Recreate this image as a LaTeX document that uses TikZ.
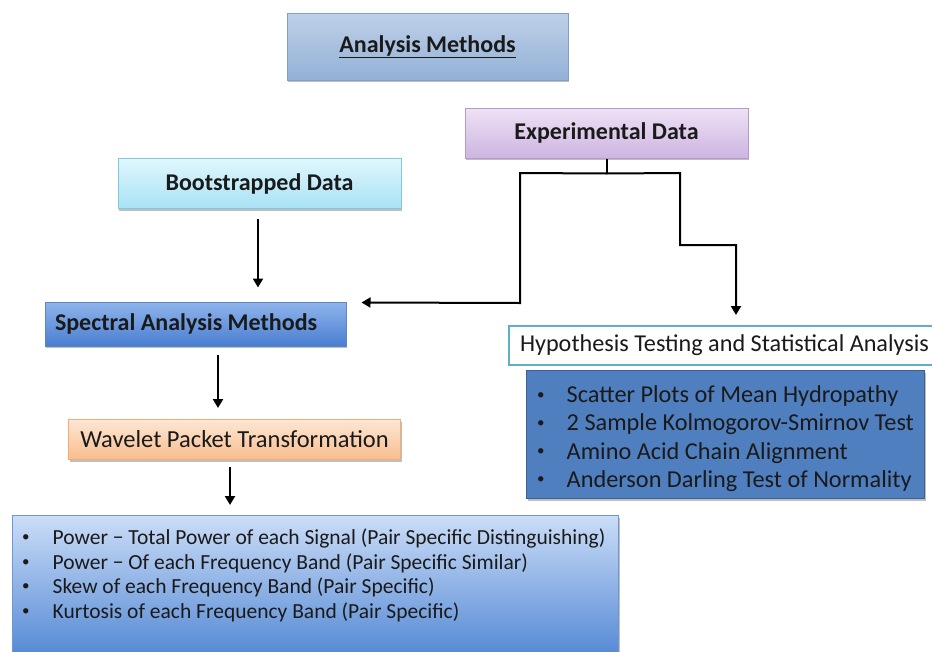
\documentclass[tikz,border=0pt]{standalone}
\usepackage{fontspec}
\setmainfont{Carlito}
\usetikzlibrary{shadows,arrows.meta,calc}
\newcommand\natsp{\spaceskip=0pt\xspaceskip=0pt\relax}
\newcommand\smbul[1]{\makebox[0pt][l]{\raisebox{#1}{\fontsize{15}{15}\selectfont•}}}
\definecolor{txt}{HTML}{1A1A1A}
\definecolor{amD}{HTML}{7F9FC9}\definecolor{amT}{HTML}{BED0E8}\definecolor{amB}{HTML}{93B1D6}
\definecolor{edD}{HTML}{B49BCB}\definecolor{edT}{HTML}{EEE2F6}\definecolor{edB}{HTML}{CDB5E0}
\definecolor{bdD}{HTML}{80C8DC}\definecolor{bdT}{HTML}{E0F7FD}\definecolor{bdB}{HTML}{A8E2F5}
\definecolor{saD}{HTML}{5A86C8}\definecolor{saT}{HTML}{8FB4EB}\definecolor{saB}{HTML}{4A7ED2}
\definecolor{wpD}{HTML}{F2AC78}\definecolor{wpT}{HTML}{FDE7D4}\definecolor{wpB}{HTML}{F8BD8E}
\definecolor{ftD}{HTML}{6D98D6}\definecolor{ftT}{HTML}{CBDDF7}\definecolor{ftB}{HTML}{4C83D2}
\definecolor{hyD}{HTML}{5FAFC8}
\definecolor{tsD}{HTML}{3C6096}\definecolor{tsF}{HTML}{4F7FBF}
\begin{document}
\begin{tikzpicture}[x=1pt,y=-1pt,
  box/.style={rectangle, inner sep=0pt, line width=1pt, text=txt,
    drop shadow={shadow xshift=1pt,shadow yshift=-2pt,opacity=0.25,fill=black}},
  ttl/.style={font=\fontsize{24}{27}\selectfont\bfseries},
  conn/.style={line width=2pt, draw=black},
  arr/.style={conn, -{Triangle[length=9pt,width=10pt]}},
]
\useasboundingbox (0,0) rectangle (932,651);

% Analysis Methods
\node[box, ttl, draw=amD, top color=amT, bottom color=amB,
  minimum width=281, minimum height=67] (am) at (427.5,46.5) {\underline{Analysis Methods}};

% Experimental Data
\node[box, ttl, draw=edD, top color=edT, bottom color=edB,
  minimum width=283, minimum height=50] (ed) at (606.5,133) {Experimental Data};

% Bootstrapped Data
\node[box, ttl, draw=bdD, top color=bdT, bottom color=bdB,
  minimum width=283, minimum height=50] (bd) at (259.5,183.5) {Bootstrapped Data};

% Spectral Analysis Methods
\node[box, ttl, draw=saD, top color=saT, bottom color=saB, inner xsep=10pt,
  minimum width=301, minimum height=44, text width=281, align=left] (sam) at (195.5,324) {\natsp Spectral Analysis Methods};

% Wavelet Packet Transformation
\node[box, font=\fontsize{24.5}{27}\selectfont, draw=wpD, top color=wpT, bottom color=wpB,
  minimum width=332, minimum height=40] (wpt) at (234.5,439.5) {Wavelet Packet Transformation};

% Bottom features box
\node[box, draw=ftD, top color=ftT, bottom color=ftB,
  minimum width=606, minimum height=150, anchor=north west] (feat) at (12,515) {};
\node[anchor=north west, inner sep=0pt, align=left, text=txt, font=\fontsize{21.5}{24.5}\selectfont] (feattxt) at (22,529)
  {\smbul{3pt}\hspace{30.5pt}Power − Total Power of each Signal (Pair Specific Distinguishing)\\
   \smbul{3pt}\hspace{30.5pt}Power − Of each Frequency Band (Pair Specific Similar)\\
   \smbul{3pt}\hspace{30.5pt}Skew of each Frequency Band (Pair Specific)\\
   \smbul{3pt}\hspace{30.5pt}Kurtosis of each Frequency Band (Pair Specific)};

% Hypothesis testing
\node[rectangle, inner xsep=11pt, inner ysep=0pt, draw=hyD, line width=2pt, fill=white, text=txt,
  minimum width=440, minimum height=39, anchor=north west, text width=418, align=left,
  font=\fontsize{24.2}{27}\selectfont] (hyp) at (508,325) {\natsp Hypothesis Testing and Statistical Analysis};

% Bullet box
\node[box, draw=tsD, fill=tsF,
  minimum width=398, minimum height=128, anchor=north west] (tests) at (526,370) {};
\node[anchor=north west, inner sep=0pt, align=left, text=txt,
  font=\fontsize{24.3}{28.3}\selectfont] (teststxt) at (537,385.5)
  {\smbul{3.5pt}\hspace{29.5pt}Scatter Plots of Mean Hydropathy\\
   \smbul{3.5pt}\hspace{29.5pt}2 Sample Kolmogorov-Smirnov Test\\
   \smbul{3.5pt}\hspace{29.5pt}Amino Acid Chain Alignment\\
   \smbul{3.5pt}\hspace{29.5pt}Anderson Darling Test of Normality};

% connectors
\coordinate (j) at ($(ed.south)+(0,15)$);
\coordinate (jl) at (520,173);
\coordinate (jl2) at (520,303);
\coordinate (jr) at (680,173);
\coordinate (jr2) at (680,245);
\coordinate (jr3) at (736,245);
\coordinate (samin) at ($(sam.north east)+(15,1)$);
\coordinate (hypin) at ($(hyp.north west -| jr3)+(0,-10)$);
\draw[conn] (ed.south) -- (j);
\draw[arr] (j) -- (jl) -- (jl2) -- (samin);
\draw[arr] (j) -- (jr) -- (jr2) -- (jr3) -- (hypin);

\coordinate (b1) at ($(bd.south)+(-1.5,10)$);
\coordinate (b2) at ($(b1 |- sam.north)+(0,-14)$);
\draw[arr] (b1) -- (b2);
\coordinate (s1) at ($(sam.south)+(22.5,8)$);
\coordinate (s2) at ($(s1 |- wpt.north)+(0,-11)$);
\draw[arr] (s1) -- (s2);
\coordinate (w1) at ($(wpt.south)+(-4.5,7)$);
\coordinate (w2) at ($(w1 |- feat.north)+(0,-10)$);
\draw[arr] (w1) -- (w2);
\end{tikzpicture}
\end{document}
